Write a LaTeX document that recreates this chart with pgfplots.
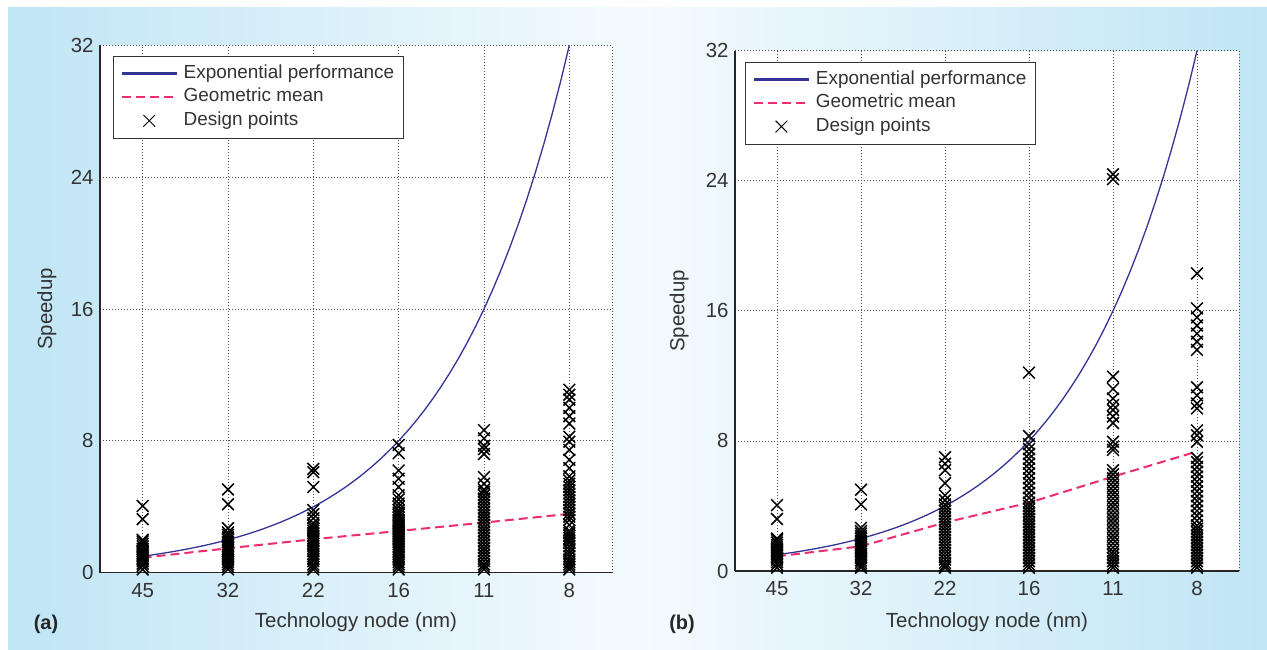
\documentclass[border=0pt]{standalone}
\usepackage{fontspec}
\setmainfont{Liberation Sans}
\usepackage{pgfplots}
\pgfplotsset{compat=1.18}
\definecolor{bgblue}{RGB}{192,229,245}
\definecolor{bgmid}{RGB}{244,251,254}
\definecolor{expblue}{RGB}{52,52,150}
\definecolor{gmpink}{RGB}{238,45,110}
\pgfplotsset{
 panel/.style={
  scale only axis, xmin=-0.5, xmax=5.5, ymin=0, ymax=32,
  axis background/.style={fill=white},
  xtick={0,...,5}, xticklabels={45,32,22,16,11,8},
  ytick={0,8,16,24,32},
  extra x ticks={5.5}, extra x tick labels={},
  extra x tick style={grid=major},
  grid=major,
  major grid style={black!70, line width=0.7bp, dash pattern=on 1bp off 2bp},
  axis x line*=bottom, axis y line*=left,
  axis line style={-, black!85, line width=1.3bp},
  major tick length=0pt,
  /pgf/number format/assume math mode=true,
  ticklabel style={font=\fontsize{20.5}{23}\selectfont, text=black!80},
  xticklabel style={yshift=-7bp},
  yticklabel style={xshift=-3bp},
  label style={font=\fontsize{20.5}{24}\selectfont, text=black!80},
  legend cell align=left,
  reverse legend,
  legend style={anchor=north west, draw=black!80, line width=0.9bp, fill=white,
    font=\fontsize{19}{21}\selectfont, text=black!80,
    inner xsep=8bp, inner ysep=7.5bp, row sep=3.5bp, column sep=5bp,
    nodes={inner sep=1.5bp, text height=13bp, text depth=4bp}},
 },
 marklegend/.style={legend image code/.code={\draw[mark repeat=2,mark phase=2,##1,line width=1bp] plot coordinates {(0bp,0bp) (27bp,0bp) (54bp,0bp)};}},
 design/.style={only marks, mark=x, mark size=8.3bp, black, line width=1.5bp, mark options={solid}, marklegend},
 expo/.style={draw=expblue, line width=1.3bp, mark=none,
   legend image code/.code={\fill[expblue] (0bp,-0.8bp) rectangle (54bp,0.8bp);}},
 gmean/.style={draw=gmpink, line width=2bp, dash pattern=on 9bp off 5bp, mark=none,
   legend image code/.code={\draw[draw=gmpink, line width=2bp, dash pattern=on 9bp off 5bp] (0bp,0bp) -- (54bp,0bp);}},
}
\begin{document}
\begin{tikzpicture}[x=1bp,y=1bp]
\path[use as bounding box] (0,0) rectangle (1267,650);
\fill[white] (0,0) rectangle (1267,650);
\shade[left color=bgblue, right color=bgblue, middle color=bgmid] (8,0) rectangle (1267,642);

% ---------------- panel (a)
\begin{axis}[panel, at={(100bp,77.3bp)}, anchor=south west, width=512bp, height=527.4bp,
  xlabel={Technology node (nm)}, ylabel={Speedup},
  xlabel style={at={(axis description cs:0.5,-0.0948)}, anchor=center},
  ylabel style={at={(axis description cs:-0.104,0.5)}, anchor=center},
  legend style={at={(0.025,0.980)}}]
\addplot[design] coordinates {
(0,0.2)(0,0.4)(0,0.55)(0,0.7)(0,0.8)(0,0.9)(0,1.0)(0,1.1)(0,1.2)(0,1.3)(0,1.45)(0,1.6)(0,1.75)(0,1.9)(0,2.0)(0,3.25)(0,4.05)
(1,0.2)(1,0.35)(1,0.5)(1,0.65)(1,0.8)(1,0.95)(1,1.05)(1,1.2)(1,1.3)(1,1.4)(1,1.5)(1,1.6)(1,1.7)(1,1.85)(1,2.0)(1,2.15)(1,2.3)(1,2.45)(1,2.7)(1,4.15)(1,5.05)
(2,0.2)(2,0.35)(2,0.5)(2,0.7)(2,0.85)(2,1.0)(2,1.15)(2,1.3)(2,1.45)(2,1.6)(2,1.75)(2,1.9)(2,2.0)(2,2.1)(2,2.25)(2,2.4)(2,2.55)(2,2.7)(2,2.85)(2,3.0)(2,3.3)(2,3.55)(2,3.8)(2,5.2)(2,6.1)(2,6.3)
(3,0.2)(3,0.35)(3,0.5)(3,0.65)(3,0.8)(3,0.95)(3,1.1)(3,1.25)(3,1.4)(3,1.55)(3,1.7)(3,1.85)(3,2.0)(3,2.1)(3,2.2)(3,2.3)(3,2.4)(3,2.5)(3,2.6)(3,2.7)(3,2.8)(3,2.9)(3,3.0)(3,3.1)(3,3.2)(3,3.35)(3,3.5)(3,3.65)(3,3.8)(3,4.0)(3,4.2)(3,4.45)(3,4.7)(3,5.2)(3,5.7)(3,6.2)(3,7.25)(3,7.75)
(4,0.2)(4,0.35)(4,0.5)(4,0.7)(4,0.9)(4,1.1)(4,1.3)(4,1.5)(4,1.7)(4,1.9)(4,2.1)(4,2.3)(4,2.5)(4,2.7)(4,2.9)(4,3.1)(4,3.3)(4,3.5)(4,3.7)(4,3.9)(4,4.1)(4,4.3)(4,4.5)(4,4.7)(4,4.9)(4,5.05)(4,5.4)(4,5.8)(4,7.2)(4,7.5)(4,7.7)(4,8.15)(4,8.65)
(5,0.2)(5,0.35)(5,0.5)(5,0.65)(5,0.8)(5,1.0)(5,1.2)(5,1.4)(5,1.6)(5,1.8)(5,1.95)(5,2.1)(5,2.25)(5,2.4)(5,2.55)(5,2.9)(5,3.2)(5,3.4)(5,3.6)(5,3.8)(5,4.0)(5,4.2)(5,4.4)(5,4.6)(5,4.8)(5,5.0)(5,5.2)(5,5.4)(5,5.6)(5,5.85)(5,6.35)(5,6.85)(5,7.45)(5,7.95)(5,8.25)(5,9.05)(5,9.5)(5,10.0)(5,10.5)(5,10.8)(5,11.1)
};
\addlegendentry{Design points}
\addplot[gmean] coordinates {(0,0.91)(1,1.48)(2,2.03)(3,2.53)(4,3.04)(5,3.57)};
\addlegendentry{Geometric mean}
\addplot[expo] coordinates {
(0,1)(0.1,1.0718)(0.2,1.1487)(0.3,1.2311)(0.4,1.3195)(0.5,1.4142)(0.6,1.5157)(0.7,1.6245)(0.8,1.7411)(0.9,1.8661)
(1,2)(1.1,2.1435)(1.2,2.2974)(1.3,2.4623)(1.4,2.6390)(1.5,2.8284)(1.6,3.0314)(1.7,3.2490)(1.8,3.4822)(1.9,3.7321)
(2,4)(2.1,4.2871)(2.2,4.5948)(2.3,4.9246)(2.4,5.2780)(2.5,5.6569)(2.6,6.0629)(2.7,6.4980)(2.8,6.9644)(2.9,7.4643)
(3,8)(3.1,8.5742)(3.2,9.1896)(3.3,9.8492)(3.4,10.556)(3.5,11.314)(3.6,12.126)(3.7,12.996)(3.8,13.929)(3.9,14.929)
(4,16)(4.1,17.148)(4.2,18.379)(4.3,19.698)(4.4,21.112)(4.5,22.627)(4.6,24.251)(4.7,25.992)(4.8,27.858)(4.9,29.857)(5,32)};
\addlegendentry{Exponential performance}
\end{axis}

% ---------------- panel (b)
\begin{axis}[panel, at={(735bp,79bp)}, anchor=south west, width=504bp, height=520.3bp,
  xlabel={Technology node (nm)}, ylabel={Speedup},
  xlabel style={at={(axis description cs:0.5,-0.098)}, anchor=center},
  ylabel style={at={(axis description cs:-0.111,0.5)}, anchor=center},
  legend style={at={(0.0198,0.979)}}]
\addplot[design] coordinates {
(0,0.2)(0,0.4)(0,0.55)(0,0.7)(0,0.8)(0,0.9)(0,1.0)(0,1.1)(0,1.2)(0,1.3)(0,1.45)(0,1.6)(0,1.75)(0,1.9)(0,2.0)(0,3.2)(0,4.05)
(1,0.2)(1,0.35)(1,0.5)(1,0.65)(1,0.8)(1,0.95)(1,1.05)(1,1.2)(1,1.3)(1,1.4)(1,1.5)(1,1.6)(1,1.7)(1,1.85)(1,2.0)(1,2.15)(1,2.3)(1,2.45)(1,2.65)(1,4.1)(1,5.0)
(2,0.2)(2,0.35)(2,0.5)(2,0.7)(2,0.9)(2,1.1)(2,1.3)(2,1.5)(2,1.7)(2,1.9)(2,2.1)(2,2.3)(2,2.5)(2,2.7)(2,2.9)(2,3.1)(2,3.3)(2,3.5)(2,3.7)(2,3.9)(2,4.1)(2,4.35)(2,4.65)(2,5.4)(2,6.2)(2,6.6)(2,7.0)
(3,0.2)(3,0.4)(3,0.6)(3,0.8)(3,1.0)(3,1.2)(3,1.4)(3,1.6)(3,1.8)(3,2.0)(3,2.2)(3,2.4)(3,2.6)(3,2.8)(3,3.0)(3,3.2)(3,3.4)(3,3.6)(3,3.8)(3,4.0)(3,4.2)(3,4.5)(3,4.8)(3,5.1)(3,5.4)(3,5.7)(3,6.0)(3,6.3)(3,6.6)(3,6.9)(3,7.2)(3,7.5)(3,7.8)(3,8.3)(3,12.2)
(4,0.2)(4,0.4)(4,0.6)(4,0.8)(4,1.0)(4,1.2)(4,1.45)(4,1.7)(4,1.95)(4,2.2)(4,2.45)(4,2.7)(4,2.95)(4,3.2)(4,3.45)(4,3.7)(4,3.95)(4,4.2)(4,4.45)(4,4.7)(4,4.95)(4,5.2)(4,5.45)(4,5.7)(4,5.95)(4,6.2)(4,7.45)(4,7.65)(4,7.95)(4,9.1)(4,9.5)(4,9.9)(4,10.2)(4,10.6)(4,11.2)(4,11.95)(4,24.1)(4,24.4)
(5,0.2)(5,0.4)(5,0.6)(5,0.8)(5,1.0)(5,1.2)(5,1.4)(5,1.6)(5,1.8)(5,2.0)(5,2.2)(5,2.4)(5,2.6)(5,2.8)(5,3.1)(5,3.4)(5,3.7)(5,4.0)(5,4.3)(5,4.6)(5,4.9)(5,5.2)(5,5.5)(5,5.8)(5,6.1)(5,6.4)(5,6.7)(5,6.95)(5,7.95)(5,8.35)(5,8.65)(5,10.0)(5,10.3)(5,10.8)(5,11.3)(5,13.6)(5,14.1)(5,14.6)(5,15.1)(5,15.6)(5,16.15)(5,18.3)
};
\addlegendentry{Design points}
\addplot[gmean] coordinates {(0,0.9)(1,1.52)(2,2.98)(3,4.2)(4,5.8)(5,7.35)};
\addlegendentry{Geometric mean}
\addplot[expo] coordinates {
(0,1)(0.1,1.0718)(0.2,1.1487)(0.3,1.2311)(0.4,1.3195)(0.5,1.4142)(0.6,1.5157)(0.7,1.6245)(0.8,1.7411)(0.9,1.8661)
(1,2)(1.1,2.1435)(1.2,2.2974)(1.3,2.4623)(1.4,2.6390)(1.5,2.8284)(1.6,3.0314)(1.7,3.2490)(1.8,3.4822)(1.9,3.7321)
(2,4)(2.1,4.2871)(2.2,4.5948)(2.3,4.9246)(2.4,5.2780)(2.5,5.6569)(2.6,6.0629)(2.7,6.4980)(2.8,6.9644)(2.9,7.4643)
(3,8)(3.1,8.5742)(3.2,9.1896)(3.3,9.8492)(3.4,10.556)(3.5,11.314)(3.6,12.126)(3.7,12.996)(3.8,13.929)(3.9,14.929)
(4,16)(4.1,17.148)(4.2,18.379)(4.3,19.698)(4.4,21.112)(4.5,22.627)(4.6,24.251)(4.7,25.992)(4.8,27.858)(4.9,29.857)(5,32)};
\addlegendentry{Exponential performance}
\end{axis}

\node[font=\bfseries\fontsize{20}{24}\selectfont, text=black!85] at (46bp,26bp) {(a)};
\node[font=\bfseries\fontsize{20}{24}\selectfont, text=black!85] at (682bp,26bp) {(b)};
\end{tikzpicture}
\end{document}
